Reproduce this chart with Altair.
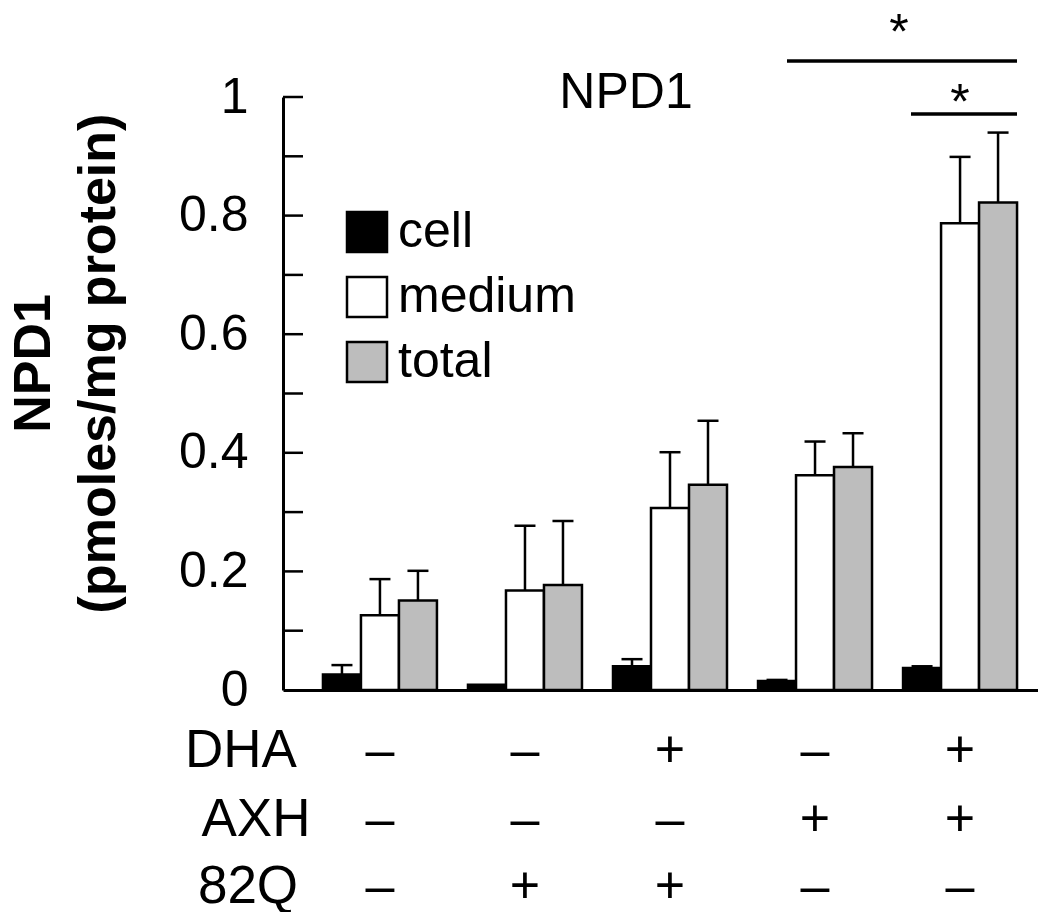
import altair as alt
import pandas as pd

# ---- data ----
groups = ["g1", "g2", "g3", "g4", "g5"]
series = ["cell", "medium", "total"]
cell = [0.026, 0.009, 0.040, 0.015, 0.037]
cell_err = [0.016, 0.0, 0.012, 0.002, 0.003]
medium = [0.126, 0.168, 0.307, 0.362, 0.787]
medium_err = [0.061, 0.109, 0.094, 0.057, 0.112]
total = [0.151, 0.177, 0.346, 0.376, 0.822]
total_err = [0.050, 0.108, 0.108, 0.057, 0.118]

row_names = ["DHA", "AXH", "82Q"]
dha = ["–", "–", "+", "–", "+"]
axh = ["–", "–", "–", "+", "+"]
q82 = ["–", "+", "+", "–", "–"]
y_labels = [0, 0.2, 0.4, 0.6, 0.8, 1.0]
y_ticks = [0.1, 0.2, 0.3, 0.4, 0.5, 0.6, 0.7, 0.8, 0.9, 1.0]
colors = ["#000000", "#ffffff", "#bdbdbd"]

rows = []
for s, vals, errs in [("cell", cell, cell_err), ("medium", medium, medium_err), ("total", total, total_err)]:
    for g, v, e in zip(groups, vals, errs):
        rows.append({"group": g, "series": s, "value": v, "err": e})
df = pd.DataFrame(rows)

FONT = "Liberation Sans"

xscale = alt.Scale(domain=groups, paddingInner=0.214, paddingOuter=0.21, align=0.656)
xaxis = alt.Axis(labels=False, ticks=False, domainColor="black", domainWidth=3, title="", grid=False)
yscale = alt.Scale(domain=[0, 1], nice=False, zero=True)
yaxis = alt.Axis(
    values=y_labels, format=".1~f", labelFontSize=50, labelFont=FONT, labelColor="black",
    labelPadding=35, ticks=False, tickSize=0, domainColor="black", domainWidth=3, grid=False,
    title=["NPD1", "(pmoles/mg protein)"], titleFont=FONT, titleFontSize=52, titleFontWeight="bold",
    titleColor="black", titleAngle=-90, titleX=-275, titleY=266, titleBaseline="top",
    titleAlign="center", titleLineHeight=65,
)


def xenc():
    return alt.X("group:N", sort=groups, scale=xscale, axis=xaxis)


def yenc(field):
    return alt.Y(f"{field}:Q", scale=yscale, axis=yaxis)


xoff = alt.XOffset("series:N", sort=series, scale=alt.Scale(domain=series, paddingInner=0, paddingOuter=0))

base = alt.Chart(df)

bars = base.mark_bar(stroke="black", strokeWidth=2.5).encode(
    x=xenc(), xOffset=xoff, y=yenc("value"),
    color=alt.Color("series:N", sort=series, scale=alt.Scale(domain=series, range=colors),
                    legend=alt.Legend(orient="none", legendX=59, legendY=110, title=None,
                                      symbolType="square", symbolSize=1600, symbolStrokeColor="black",
                                      symbolStrokeWidth=2.5, symbolOpacity=1, labelFontSize=50,
                                      labelFont=FONT, labelColor="black", rowPadding=15,
                                      labelOffset=6, labelLimit=400, padding=0)),
)

err_base = base.transform_filter("datum.err > 0").transform_calculate(upper="datum.value + datum.err")
err_rules = err_base.mark_rule(color="black", strokeWidth=2.5).encode(
    x=xenc(), xOffset=xoff, y=yenc("value"), y2="upper:Q")
caps = err_base.mark_tick(color="black", size=21, thickness=2.5, opacity=1).encode(
    x=xenc(), xOffset=xoff, y=yenc("upper"))

inner_ticks = alt.Chart(pd.DataFrame({"tick": y_ticks})).mark_rule(color="black", strokeWidth=2.5).encode(
    y=yenc("tick"), x=alt.value(0), x2=alt.value(20))

one = pd.DataFrame({"t": ["NPD1"]})
title_txt = alt.Chart(one).mark_text(font=FONT, fontSize=50, color="black", align="center",
                                     baseline="alphabetic").encode(
    text="t:N", x=alt.value(343), y=alt.value(11))

star = pd.DataFrame({"t": ["*"]})
sig1_line = alt.Chart(star).mark_rule(color="black", strokeWidth=3.5).encode(
    x=alt.value(504), x2=alt.value(734), y=alt.value(-36))
sig1_star = alt.Chart(star).mark_text(font=FONT, fontSize=50, color="black", align="center",
                                      baseline="alphabetic").encode(
    text="t:N", x=alt.value(616), y=alt.value(-48))
sig2_line = alt.Chart(star).mark_rule(color="black", strokeWidth=3.5).encode(
    x=alt.value(628), x2=alt.value(734), y=alt.value(17))
sig2_star = alt.Chart(star).mark_text(font=FONT, fontSize=50, color="black", align="center",
                                      baseline="alphabetic").encode(
    text="t:N", x=alt.value(677), y=alt.value(22))

row_layers = []
row_y = [654, 723, 790]
row_x = [-42, -27, -35]
for name, signs, ry, rx in zip(row_names, [dha, axh, q82], row_y, row_x):
    sdf = pd.DataFrame({"group": groups, "sign": signs})
    row_layers.append(
        alt.Chart(sdf).mark_text(font=FONT, fontSize=52, color="black", align="center",
                                 baseline="middle").encode(
            x=xenc(), text="sign:N", y=alt.value(ry)))
    row_layers.append(
        alt.Chart(pd.DataFrame({"t": [name]})).mark_text(font=FONT, fontSize=53, color="black",
                                                         align="center", baseline="middle").encode(
            text="t:N", x=alt.value(rx), y=alt.value(ry)))

chart = alt.layer(
    bars, err_rules, caps, inner_ticks, title_txt, sig1_line, sig1_star, sig2_line, sig2_star, *row_layers
).properties(
    width=755, height=593,
    padding={"left": 275, "top": 89, "right": 0, "bottom": 222},
    autosize=alt.AutoSizeParams(type="none"),
    background="white",
).configure_view(stroke="transparent", strokeWidth=0)

chart.save("out.html", embed_options={"renderer": "svg", "actions": False})
